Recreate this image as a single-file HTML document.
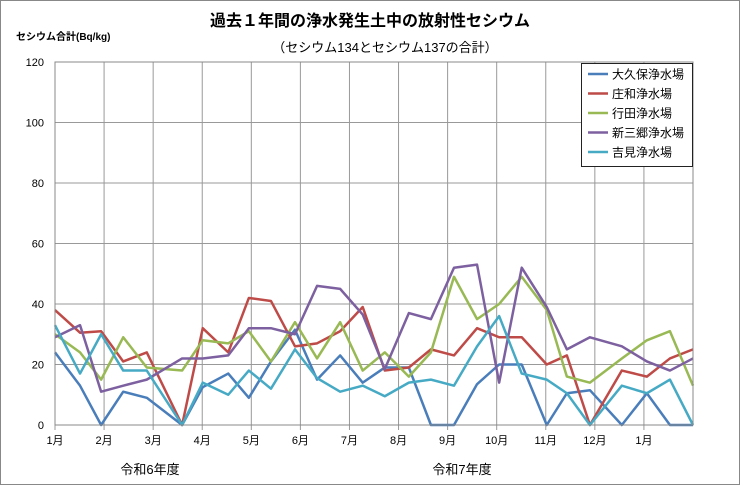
<!DOCTYPE html>
<html><head><meta charset="utf-8"><style>
body{margin:0;background:#fff}
svg{display:block;font-family:"Liberation Sans","Noto Sans CJK JP",sans-serif}
</style></head><body>
<svg id="c" width="740" height="485">
<rect x="0.5" y="0.5" width="739" height="484" fill="#fff" stroke="#888"/>
<text x="370" y="26" text-anchor="middle" font-size="16" font-weight="bold">過去１年間の浄水発生土中の放射性セシウム</text>
<text x="385" y="52" text-anchor="middle" font-size="13">（セシウム134とセシウム137の合計）</text>
<text x="16" y="40" font-size="10" font-weight="bold">セシウム合計(Bq/kg)</text>
<g id="grid"></g><g id="series"></g>
<rect x="55" y="62" width="638" height="363" fill="none" stroke="#888"/>
<text x="150" y="474" text-anchor="middle" font-size="13">令和6年度</text>
<text x="462" y="474" text-anchor="middle" font-size="13">令和7年度</text>
<g>
<rect x="581.5" y="63.5" width="111" height="103" fill="#fff" stroke="#222"/>
<g id="legend"></g>
</g>
</svg>
<script>
const monthLabels=["1月","2月","3月","4月","5月","6月","7月","8月","9月","10月","11月","12月","1月"];
const yTicks=[0,20,40,60,80,100,120];
const seriesNames=["大久保浄水場","庄和浄水場","行田浄水場","新三郷浄水場","吉見浄水場"];
const colors=["#4a7ebb","#be4b48","#98b954","#7d60a0","#46aac5"];
const xPos=[0,0.51,0.94,1.39,1.87,2.59,3.01,3.53,3.95,4.4,4.89,5.34,5.81,6.27,6.72,7.21,7.66,8.13,8.6,9.05,9.51,10.02,10.43,10.9,11.55,12.06,12.53,13];
const s0=[24,13,0,11,9,0,12.5,17,9,21,31.5,15,23,14,19,19,0,0,13.5,20,20,0,10.5,11.5,0,10.5,0,0];
const s1=[38,30.5,31,21,24,0,32,24,42,41,26,27,31,39,18,19,25,23,32,29,29,20,23,0,18,16,22,25];
const s2=[30,24,15,29,19,18,28,27,31,21,34,22,34,18,24,16,24,49,35,40,49,38,16,14,22,28,31,13];
const s3=[29,33,11,13,15,22,22,23,32,32,30,46,45,36.5,18.5,37,35,52,53,14,52,39,25,29,26,21,18,22];
const s4=[33,17,30,18,18,0,14,10,18,12,25,15.5,11,13,9.5,14,15,13,26,36,17,15,10.5,0,13,10.5,15,0];
const seriesData=[s0,s1,s2,s3,s4];
const NS="http://www.w3.org/2000/svg";
const X=m=>55+m*(638/13);
const Y=v=>425-v*(363/120);
const grid=document.getElementById('grid');
function mk(tag,attrs,parent){const e=document.createElementNS(NS,tag);for(const k in attrs)e.setAttribute(k,attrs[k]);parent.appendChild(e);return e;}
yTicks.forEach(v=>{
  const l=mk('line',{x1:55,x2:693,y1:Y(v),y2:Y(v),stroke:'#999','stroke-width':1},grid);
  
  
  const t=mk('text',{x:44,y:Y(v)+4,'text-anchor':'end','font-size':11},grid);
  t.textContent=v;
  
  
});
monthLabels.forEach((m,i)=>{
  const l=mk('line',{x1:X(i),x2:X(i),y1:62,y2:430,stroke:'#999','stroke-width':1},grid);
  
  
  const t=mk('text',{x:X(i),y:444,'text-anchor':'middle','font-size':11},grid);
  t.textContent=m;
  
  
});
const sg=document.getElementById('series');
seriesData.forEach((d,si)=>{
  const p=mk('polyline',{points:d.map((v,i)=>X(xPos[i])+','+Y(v)).join(' '),fill:'none',stroke:colors[si],'stroke-width':2.5,'stroke-linejoin':'round'},sg);
  
  
});
const lg=document.getElementById('legend');
seriesNames.forEach((n,i)=>{
  const y=74+i*19.5;
  const l=mk('line',{x1:588,x2:608,y1:y,y2:y,stroke:colors[i],'stroke-width':2.5},lg);
  
  
  const t=mk('text',{x:612,y:y+4.5,'font-size':12},lg);
  t.textContent=n;
  
  
});
</script>
</body></html>
